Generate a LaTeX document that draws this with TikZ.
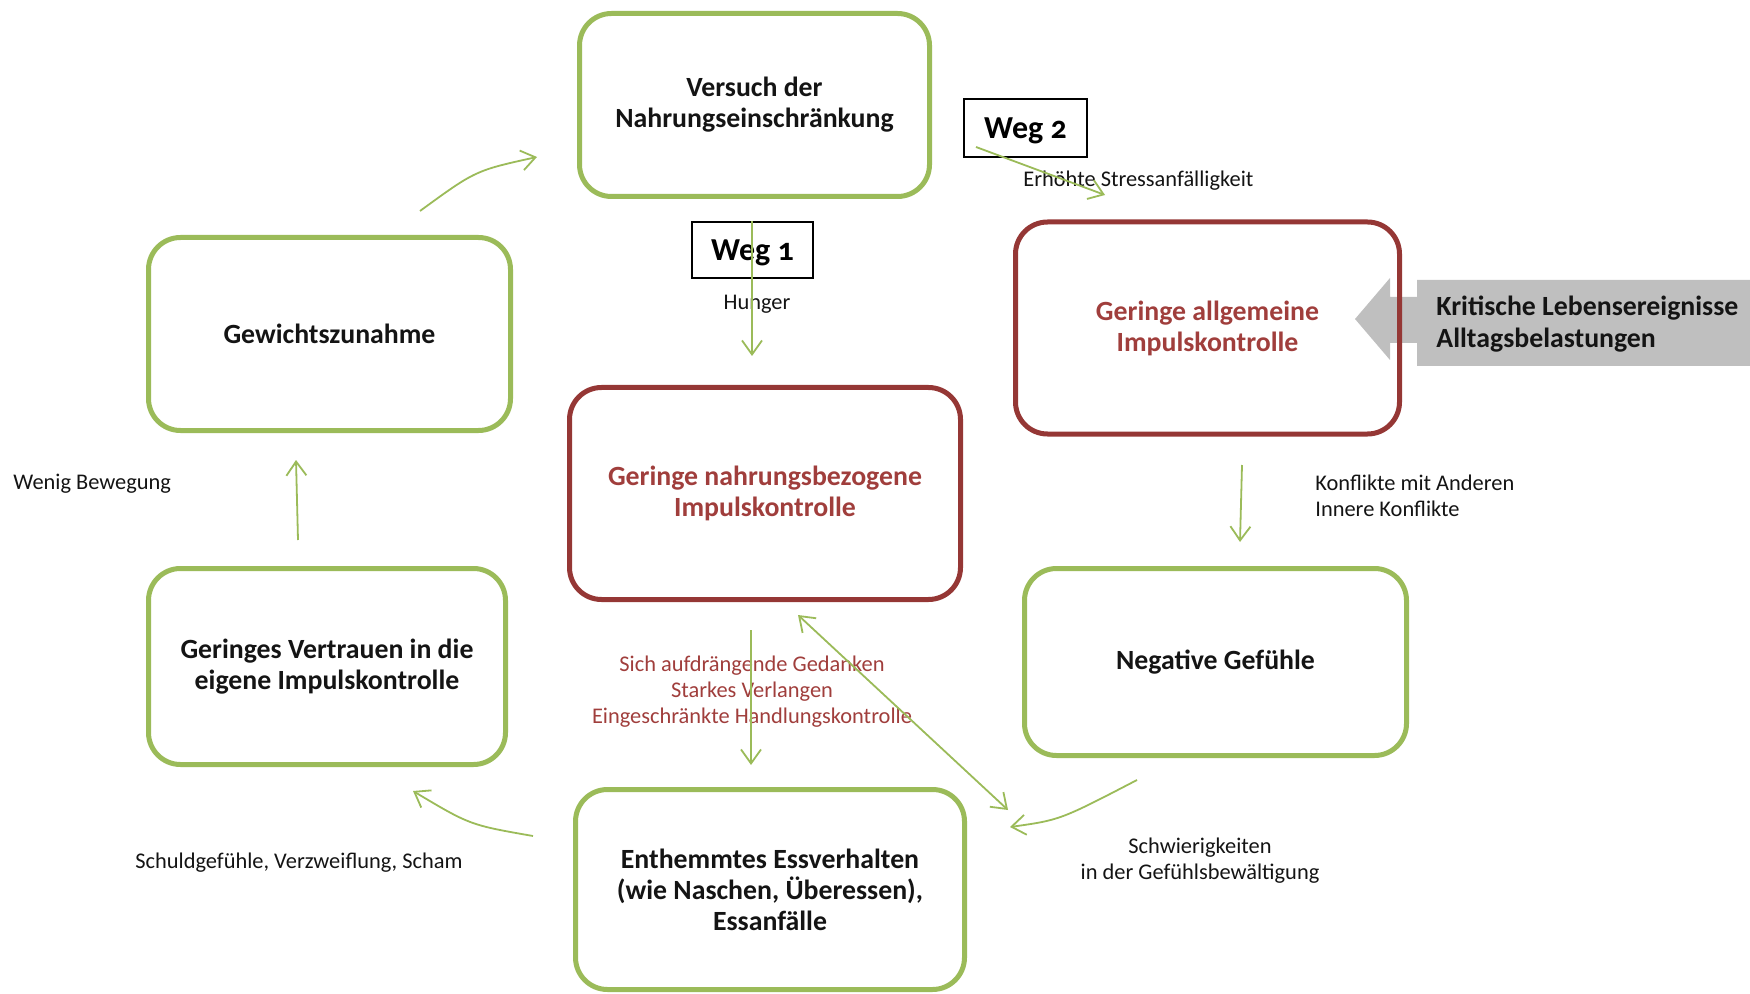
\documentclass[tikz,border=0pt]{standalone}
\usepackage{fontspec}
\setmainfont{Carlito}
\usetikzlibrary{arrows.meta}
\definecolor{boxgreen}{RGB}{155,187,89}
\definecolor{boxred}{RGB}{149,55,53}
\definecolor{txtred}{RGB}{160,62,60}
\definecolor{calloutgray}{RGB}{191,191,191}
\definecolor{arrowgreen}{RGB}{155,187,89}
\definecolor{txtdark}{RGB}{20,20,20}
\begin{document}
\begin{tikzpicture}[x=0.5pt,y=-0.5pt,
  cyclebox/.style={draw=boxgreen, line width=2.5pt, rounded corners=16pt, align=center,
    font=\fontsize{13.9}{15.5}\selectfont\bfseries, text=txtdark, inner sep=0pt},
  redbox/.style={cyclebox, draw=boxred, text=txtred},
  wegbox/.style={draw=black, line width=0.9pt, fill=white, inner sep=0pt, text depth=0pt,
    font=\fontsize{16}{18}\selectfont\bfseries\addfontfeatures{Numbers=OldStyle}},
  lbl/.style={font=\fontsize{11.2}{13}\selectfont, text=txtdark, inner sep=0pt},
  redlbl/.style={lbl, text=txtred, align=center},
  flow/.style={draw=arrowgreen, line width=0.9pt, -{Straight Barb[length=7pt,width=10pt]}},
]
\useasboundingbox (0,0) rectangle (1750,994);

% grey callout (behind the red box)
\fill[calloutgray] (1355,319) -- (1390,278) -- (1390,297) -- (1417,297) -- (1417,280)
  -- (1750,280) -- (1750,366) -- (1417,366) -- (1417,343) -- (1390,343) -- (1390,360) -- cycle;
\node[anchor=west, align=left, inner sep=0pt, text=txtdark,
  font=\fontsize{13.9}{16}\selectfont\bfseries] (krit) at (1436,324)
  {Kritische Lebensereignisse\\Alltagsbelastungen};

% main boxes
\node[cyclebox, minimum width=175pt, minimum height=91.5pt] (vers) at (754.5,105)
  {Versuch der\\Nahrungseinschränkung};
\node[redbox, minimum width=192pt, minimum height=106pt] (allg) at (1207.5,328)
  {Geringe allgemeine\\Impulskontrolle};
\node[cyclebox, minimum width=181pt, minimum height=96.5pt] (gew) at (329.5,334)
  {Gewichtszunahme};
\node[redbox, minimum width=195.5pt, minimum height=106pt] (nahr) at (765,493.5)
  {Geringe nahrungsbezogene\\Impulskontrolle};
\node[cyclebox, minimum width=191pt, minimum height=93.5pt] (neg) at (1215.5,662)
  {Negative Gefühle};
\node[cyclebox, minimum width=178.5pt, minimum height=98pt] (vert) at (327,666.5)
  {Geringes Vertrauen in die\\eigene Impulskontrolle};
\node[cyclebox, minimum width=194.5pt, minimum height=100pt] (ent) at (770,889.5)
  {Enthemmtes Essverhalten\\(wie Naschen, Überessen),\\Essanfälle};

% Weg boxes
\node[wegbox, minimum width=60.5pt, minimum height=28pt] (weg1) at (752.5,250) {Weg 1};
\node[wegbox, minimum width=61.5pt, minimum height=29pt] (weg2) at (1025.5,128) {Weg 2};

% labels
\node[lbl] (hunger) at (757,304) {Hunger};
\node[lbl, anchor=west] (stress) at (1023,181) {Erhöhte Stressanfälligkeit};
\node[lbl, anchor=west, align=left] (konf) at (1315,496) {Konflikte mit Anderen\\Innere Konflikte};
\node[lbl, anchor=west] (wenig) at (13,484) {Wenig Bewegung};
\node[redlbl] (gedanken) at (752,692)
  {Sich aufdrängende Gedanken\\Starkes Verlangen\\Eingeschränkte Handlungskontrolle};
\node[lbl] (schuld) at (299,863) {Schuldgefühle, Verzweiflung, Scham};
\node[lbl, align=center] (schwier) at (1200,861) {Schwierigkeiten\\in der Gefühlsbewältigung};

% arrow end points
\coordinate (a1s) at (752,221);  \coordinate (a1e) at (752,356);
\coordinate (a2s) at (976,147);  \coordinate (a2e) at (1105,195);
\coordinate (a3s) at (1242,465); \coordinate (a3e) at (1240,542);
\coordinate (a4s) at (1137,780); \coordinate (a4c) at (1060,820); \coordinate (a4e) at (1010,827);
\coordinate (a5s) at (798,615);  \coordinate (a5e) at (1008,810);
\coordinate (a6s) at (751,630);  \coordinate (a6e) at (751,765);
\coordinate (a7s) at (533,836);  \coordinate (a7c) at (470,825); \coordinate (a7e) at (413,791);
\coordinate (a8s) at (298,540);  \coordinate (a8e) at (296,460);
\coordinate (a9s) at (420,211);  \coordinate (a9c) at (475.5,170.5); \coordinate (a9e) at (537,157);

% arrows
\draw[flow] (a1s) -- (a1e);
\draw[flow] (a2s) -- (a2e);
\draw[flow] (a3s) -- (a3e);
\draw[flow] (a4s) .. controls (a4c) .. (a4e);
\draw[flow, {Straight Barb[length=7pt,width=10pt]}-{Straight Barb[length=7pt,width=10pt]}] (a5s) -- (a5e);
\draw[flow] (a6s) -- (a6e);
\draw[flow] (a7s) .. controls (a7c) .. (a7e);
\draw[flow] (a8s) -- (a8e);
\draw[flow] (a9s) .. controls (a9c) .. (a9e);
\end{tikzpicture}
\end{document}
